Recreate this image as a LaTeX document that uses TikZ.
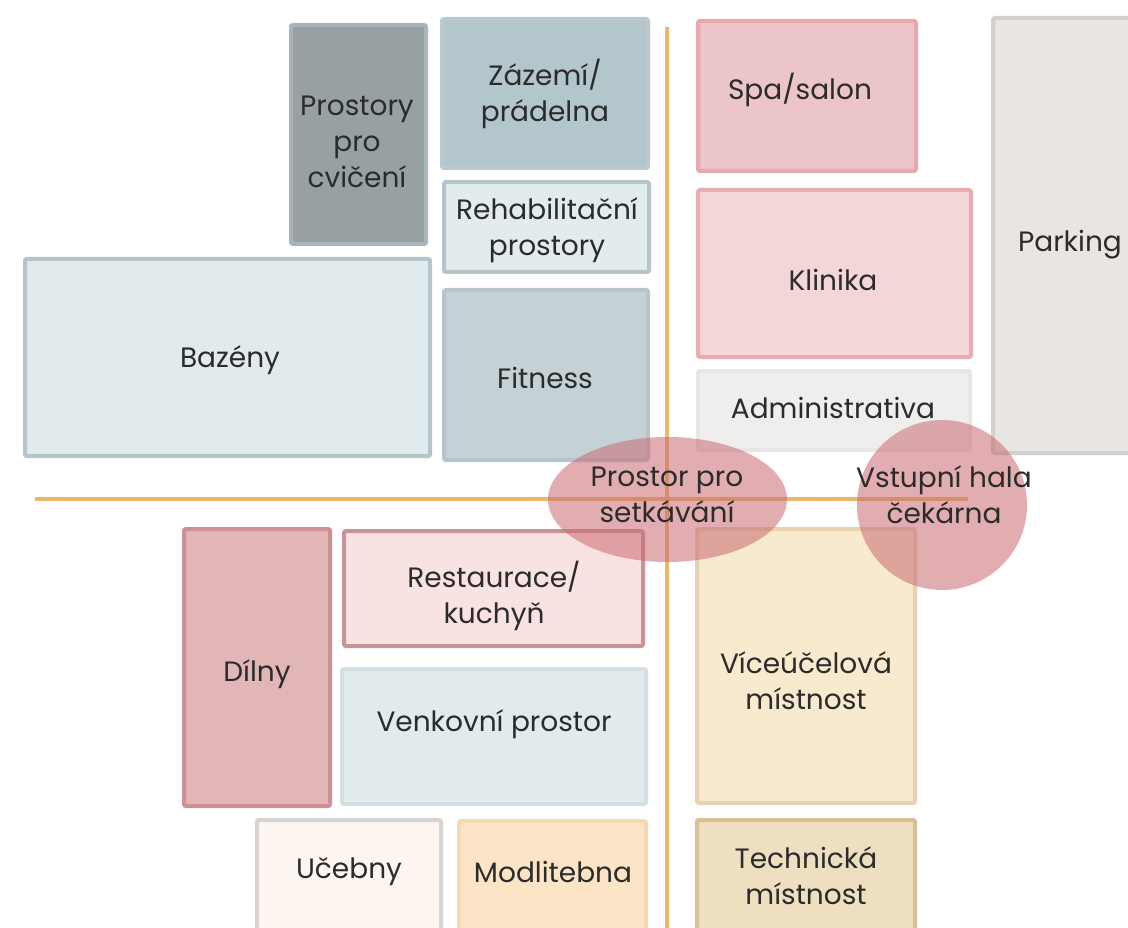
\documentclass[tikz,border=0pt]{standalone}
\usepackage{fontspec}
\setmainfont{Poppins}
\usetikzlibrary{shapes.geometric}
\definecolor{txt}{HTML}{2B2B2B}
\definecolor{axis}{HTML}{EAB867}
\definecolor{blob}{HTML}{C96B72}
\definecolor{pcF}{HTML}{97A1A3}\definecolor{pcD}{HTML}{A8B5B8}
\definecolor{zpF}{HTML}{B3C6CB}\definecolor{zpD}{HTML}{B8CACF}
\definecolor{rpF}{HTML}{E2EBEE}\definecolor{rpD}{HTML}{B5C5CA}
\definecolor{bzF}{HTML}{E1EAED}\definecolor{bzD}{HTML}{B5C4C9}
\definecolor{ftF}{HTML}{C4D1D5}\definecolor{ftD}{HTML}{B5C5CA}
\definecolor{spF}{HTML}{EBC5C7}\definecolor{spD}{HTML}{E9A9AC}
\definecolor{klF}{HTML}{F3D7D8}\definecolor{klD}{HTML}{EAACAF}
\definecolor{adF}{HTML}{EFEEED}\definecolor{adD}{HTML}{E8E6E5}
\definecolor{pkF}{HTML}{E9E5E3}\definecolor{pkD}{HTML}{D2CFCC}
\definecolor{dlF}{HTML}{E2B5B7}\definecolor{dlD}{HTML}{CD9094}
\definecolor{rkF}{HTML}{F9E2E2}\definecolor{rkD}{HTML}{C99296}
\definecolor{vpF}{HTML}{E1EAED}\definecolor{vpD}{HTML}{D3DFE2}
\definecolor{ucF}{HTML}{FDF5F0}\definecolor{ucD}{HTML}{D6D3D0}
\definecolor{mlF}{HTML}{FBE5C6}\definecolor{mlD}{HTML}{F6D9B3}
\definecolor{vuF}{HTML}{F8EACF}\definecolor{vuD}{HTML}{E8D3AE}
\definecolor{tmF}{HTML}{EEDFC1}\definecolor{tmD}{HTML}{D8C193}
\tikzset{
  room/.style={rectangle, rounded corners=2pt, line width=4pt, fill=#1F, draw=#1D, inner sep=0pt},
  lbl/.style={text=txt, align=center, font=\fontsize{28}{36}\selectfont, inner sep=0pt},
  axisline/.style={draw=axis, line width=4.5pt},
  meet/.style={ellipse, fill=blob, fill opacity=0.55, draw=none, inner sep=0pt},
}
\begin{document}
\begin{tikzpicture}[x=1pt,y=-1pt]
\clip (0,0) rectangle (1128,928);
\fill[white] (0,0) rectangle (1128,928);
% rooms
\node[room=pc, minimum width=135, minimum height=219] (pc) at (358.5,134.5) {};
\node[room=zp, minimum width=206, minimum height=149] (zp) at (545,93.5) {};
\node[room=rp, minimum width=205, minimum height=90] (rp) at (546.5,227) {};
\node[room=bz, minimum width=405, minimum height=197] (bz) at (227.5,357.5) {};
\node[room=ft, minimum width=204, minimum height=170] (ft) at (546,375) {};
\node[room=sp, minimum width=218, minimum height=150] (sp) at (807,96) {};
\node[room=kl, minimum width=273, minimum height=167] (kl) at (834.5,273.5) {};
\node[room=ad, minimum width=272, minimum height=79] (ad) at (834,410.5) {};
\node[room=pk, minimum width=150, minimum height=435] (pk) at (1068,235.5) {};
\node[room=dl, minimum width=146, minimum height=277] (dl) at (257,667.5) {};
\node[room=rk, minimum width=299, minimum height=115] (rk) at (493.5,588.5) {};
\node[room=vp, minimum width=304, minimum height=135] (vp) at (494,736.5) {};
\node[room=uc, minimum width=184, minimum height=130] (uc) at (349,885) {};
\node[room=ml, minimum width=187, minimum height=130] (ml) at (552.5,886) {};
\node[room=vu, minimum width=218, minimum height=274] (vu) at (806,666) {};
\node[room=tm, minimum width=218, minimum height=130] (tm) at (806,885) {};
% axes
\coordinate (vtop) at (667,27);
\coordinate (vbot) at (667,935);
\coordinate (hl) at (35,499);
\coordinate (hr) at (968,499);
\draw[axisline] (vtop) -- (vbot);
\draw[axisline] (hl) -- (hr);
% meeting areas
\node[meet, minimum width=239, minimum height=125] (e1) at (667.5,499.5) {};
\node[meet, minimum width=170, minimum height=170] (e2) at (942,505) {};
% labels
\node[lbl] (tpc) at (357,142) {Prostory\\pro\\cvičení};
\node[lbl] (tzp) at (545,94) {Zázemí/\\prádelna};
\node[lbl] (trp) at (547,230) {Rehabilitační\\prostory};
\node[lbl] (tbz) at (230,360) {Bazény};
\node[lbl] (tft) at (545,378) {Fitness};
\node[lbl] (tsp) at (800,90) {Spa/salon};
\node[lbl] (tkl) at (833,280) {Klinika};
\node[lbl] (tad) at (833,408) {Administrativa};
\node[lbl] (tpk) at (1070,245) {Parking};
\node[lbl] (te1) at (667,495) {Prostor pro\\setkávání};
\node[lbl] (te2) at (944,495) {Vstupní hala\\čekárna};
\node[lbl] (trk) at (494,596) {Restaurace/\\kuchyň};
\node[lbl] (tdl) at (257,674) {Dílny};
\node[lbl] (tvp) at (494,724) {Venkovní prostor};
\node[lbl] (tvu) at (806,681) {Víceúčelová\\místnost};
\node[lbl] (tuc) at (349,872) {Učebny};
\node[lbl] (tml) at (553,872) {Modlitebna};
\node[lbl] (ttm) at (806,876) {Technická\\místnost};
\end{tikzpicture}
\end{document}
